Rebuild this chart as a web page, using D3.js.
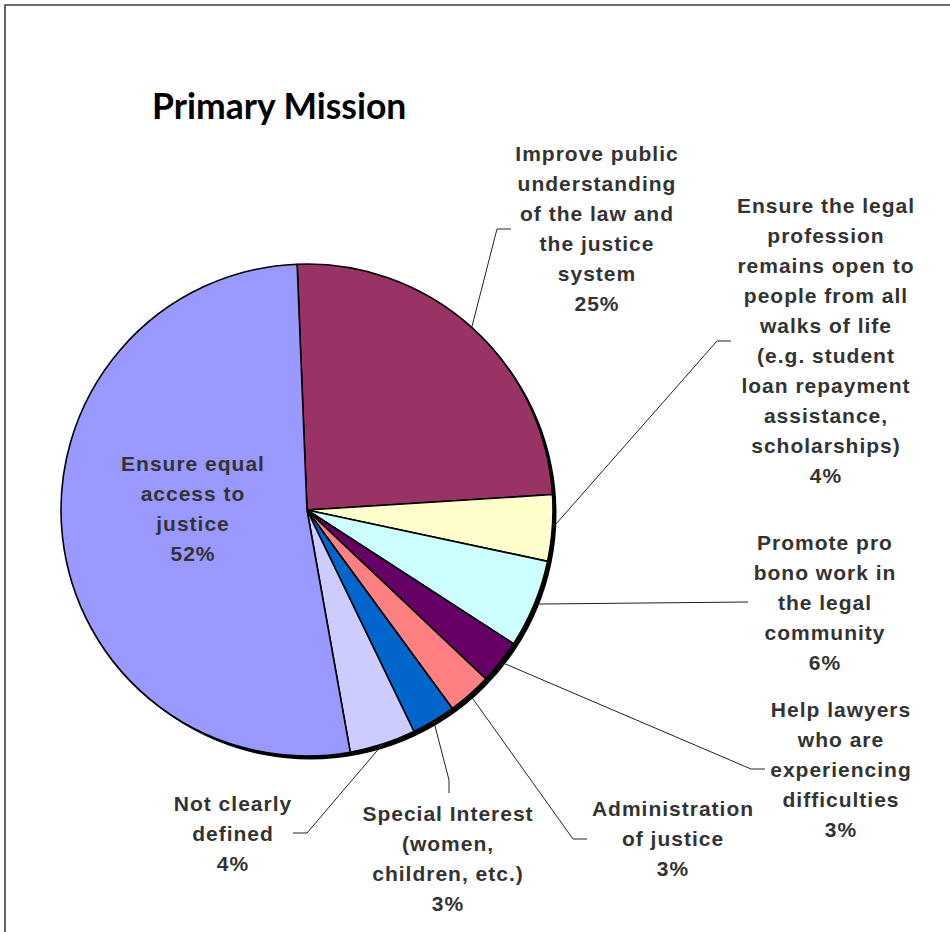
<!DOCTYPE html>
<html>
<head>
<meta charset="utf-8">
<script src="https://cdn.jsdelivr.net/npm/d3@7/dist/d3.min.js"></script>
<style>
  html, body { margin: 0; padding: 0; background: #fff; }
  svg { display: block; }
</style>
</head>
<body>
<div id="chart"></div>
<script>
// Survey responses: primary mission (counts per category, clockwise from top)
const categories = [
  "Improve public understanding of the law and the justice system",
  "Ensure the legal profession remains open to people from all walks of life (e.g. student loan repayment assistance, scholarships)",
  "Promote pro bono work in the legal community",
  "Help lawyers who are experiencing difficulties",
  "Administration of justice",
  "Special Interest (women, children, etc.)",
  "Not clearly defined",
  "Ensure equal access to justice"
];
const counts = [17, 3, 4, 2, 2, 2, 3, 36];

// Wrapped label lines for each category
const labelLines = [
  ["Improve public", "understanding", "of the law and", "the justice", "system"],
  ["Ensure the legal", "profession", "remains open to", "people from all", "walks of life", "(e.g. student", "loan repayment", "assistance,", "scholarships)"],
  ["Promote pro", "bono work in", "the legal", "community"],
  ["Help lawyers", "who are", "experiencing", "difficulties"],
  ["Administration", "of justice"],
  ["Special Interest", "(women,", "children, etc.)"],
  ["Not clearly", "defined"],
  ["Ensure equal", "access to", "justice"]
];

const colors = ["#993366", "#FFFFCC", "#CCFFFF", "#660066", "#FF8080", "#0066CC", "#CCCCFF", "#9999FF"];

// Label block anchors (centre x, first line y) and leader elbows
const labelLayout = [
  { x: 597, y: 153, elbow: [497, 229], end: [511, 229] },
  { x: 826, y: 205, elbow: [717, 341], end: [731, 341] },
  { x: 825, y: 542, elbow: [748, 602], end: [748, 602] },
  { x: 841, y: 709, elbow: [751, 769], end: [765, 769] },
  { x: 673, y: 808, elbow: [573, 839], end: [587, 839] },
  { x: 448, y: 813, elbow: [449, 780], end: [449, 793] },
  { x: 233, y: 803, elbow: [307, 833], end: [293, 833] },
  { x: 193, y: 463, elbow: null, end: null }
];

const W = 950, H = 932;
const cx = 307, cy = 510, R = 246;
const lineH = 30;
const firstAngle = -2.3 * Math.PI / 180;

const svg = d3.select("#chart").append("svg")
  .attr("width", W).attr("height", H);

svg.append("rect").attr("width", W).attr("height", H).attr("fill", "#fff");

// chart area frame (top and left edges visible)
svg.append("path")
  .attr("d", `M5,${H} L5,5 L${W},5`)
  .attr("fill", "none").attr("stroke", "#404040").attr("stroke-width", 1.6);

// title
svg.append("text")
  .attr("x", 152).attr("y", 119)
  .attr("font-family", "Lato, 'Open Sans', sans-serif")
  .attr("font-weight", 700)
  .attr("font-size", 35.5)
  .attr("fill", "#000")
  .text("Primary Mission");

const total = d3.sum(counts);
const data = counts.map((v, i) => ({ i, v, pct: Math.round(v / total * 100) }));

const pie = d3.pie().value(d => d.v).sort(null)
  .startAngle(firstAngle).endAngle(firstAngle + 2 * Math.PI);
const arcs = pie(data);
const arc = d3.arc().innerRadius(0).outerRadius(R);

const g = svg.append("g").attr("transform", `translate(${cx},${cy})`);

// drop shadow under the pie
g.append("circle").attr("cx", 3.5).attr("cy", 3.5).attr("r", R).attr("fill", "#000");

g.selectAll("path.slice").data(arcs).join("path")
  .attr("class", "slice")
  .attr("d", arc)
  .attr("fill", d => colors[d.data.i])
  .attr("stroke", "#000")
  .attr("stroke-width", 1.6)
  .attr("stroke-linejoin", "round");

// leader lines from each slice's outer edge to its label
arcs.forEach(a => {
  const L = labelLayout[a.data.i];
  if (!L.elbow) return;
  const mid = (a.startAngle + a.endAngle) / 2;
  const sx = cx + R * Math.sin(mid), sy = cy - R * Math.cos(mid);
  svg.append("path")
    .attr("d", d3.line()([[sx, sy], L.elbow, L.end]))
    .attr("fill", "none").attr("stroke", "#222").attr("stroke-width", 1);
});

// labels
arcs.forEach(a => {
  const i = a.data.i;
  const L = labelLayout[i];
  const lines = labelLines[i].concat([a.data.pct + "%"]);
  const t = svg.append("text")
    .attr("font-family", "'Liberation Sans', Arial, sans-serif")
    .attr("font-weight", 700)
    .attr("font-size", 21)
    .attr("letter-spacing", 1)
    .attr("fill", "#333")
    .attr("text-anchor", "middle");
  lines.forEach((ln, k) => {
    t.append("tspan")
      .attr("x", L.x)
      .attr("y", L.y + k * lineH)
      .attr("dy", "0.36em")
      .text(ln);
  });
});
</script>
</body>
</html>
